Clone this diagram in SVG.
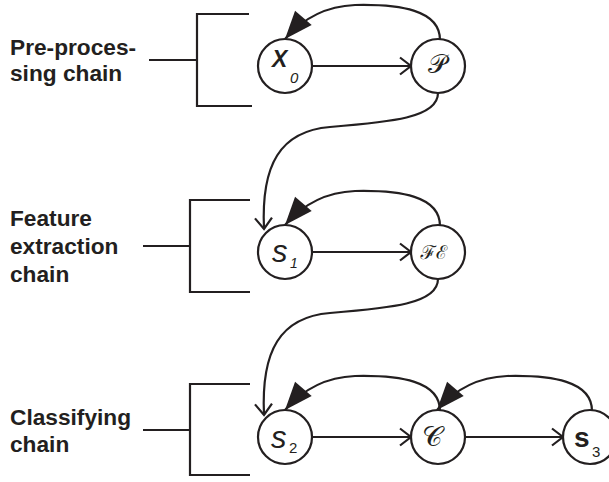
<svg xmlns="http://www.w3.org/2000/svg" width="609" height="482" viewBox="0 0 609 482">
<style>
.lbl{font-family:"Liberation Sans",Arial,sans-serif;font-weight:bold;font-size:22.7px;fill:#231f20}
.br{fill:none;stroke:#231f20;stroke-width:2.2}
.nd{fill:#fff;stroke:#231f20;stroke-width:2.2}
.e{fill:none;stroke:#231f20;stroke-width:2.2}
.ea{marker-end:url(#open)}
.fb{marker-end:url(#tri)}
.v{font-family:"Liberation Sans",Arial,sans-serif;fill:#231f20}
.m{font-family:"DejaVu Serif","Noto Sans","DejaVu Sans",serif;fill:#231f20;text-anchor:middle}
</style>
<defs>
<marker id="open" markerUnits="userSpaceOnUse" viewBox="0 0 14 20" refX="12" refY="10" markerWidth="14" markerHeight="20" orient="auto" overflow="visible">
<path d="M1,1.5 L12,10 L1,18.5" fill="none" stroke="#231f20" stroke-width="2.2"/>
</marker>
<marker id="tri" markerUnits="userSpaceOnUse" viewBox="0 0 28 22" refX="28" refY="11" markerWidth="28" markerHeight="22" orient="auto" overflow="visible">
<path d="M0,0 L28,11 L0,22 z" fill="#231f20"/>
</marker>
</defs>

<g id="label-preprocessing">
<text class="lbl" x="10" y="55">Pre-proces-</text>
<text class="lbl" x="10" y="81">sing chain</text>
<path class="br" d="M149,60 H197 M249,14 H197 V106 H252"/>
</g>
<g id="label-feature">
<text class="lbl" x="10" y="226">Feature</text>
<text class="lbl" x="10" y="254">extraction</text>
<text class="lbl" x="10" y="282">chain</text>
<path class="br" d="M143,246 H190 M250,200 H190 V292 H250"/>
</g>
<g id="label-classifying">
<text class="lbl" x="10" y="425">Classifying</text>
<text class="lbl" x="10" y="452">chain</text>
<path class="br" d="M143,430 H190 M250,384 H190 V475 H250"/>
</g>

<g id="connectors">
<path class="e ea" d="M312,66 H411"/>
<path class="e ea" d="M312,252 H411"/>
<path class="e ea" d="M312,437 H411"/>
<path class="e ea" d="M465,437 H563"/>
<path class="e fb" d="M440,40 C440,10 400,4 355,5 C330,6 305,16 285,39"/>
<path class="e fb" d="M440,226 C440,196 400,190 355,191 C330,192 305,202 285,225"/>
<path class="e fb" d="M440,411 C440,381 400,375 355,376 C330,377 305,387 285,410"/>
<path class="e fb" d="M592,411 C592,381 552,375 507,376 C482,377 457,387 437,410"/>
<path class="e ea" d="M438,93 C438,118 390,122 330,127 C280,131 261,165 264,229"/>
<path class="e ea" d="M438,279 C438,304 390,308 330,313 C280,317 261,351 264,415"/>
</g>

<g id="node-x0">
<circle class="nd" cx="285" cy="66" r="27"/>
<text class="v" x="272" y="67" font-size="23" font-weight="bold" font-style="italic">X</text>
<text class="v" x="290" y="83" font-size="15" font-style="italic">0</text>
</g>
<g id="node-p">
<circle class="nd" cx="438" cy="66" r="27"/>
<text class="m" x="437" y="73" font-size="26">𝒫</text>
</g>
<g id="node-s1">
<circle class="nd" cx="285" cy="252" r="27"/>
<text class="v" x="272" y="262" font-size="31" font-style="italic">s</text>
<text class="v" x="290" y="268" font-size="14" font-style="italic">1</text>
</g>
<g id="node-fe">
<circle class="nd" cx="438" cy="252" r="27"/>
<text class="m" x="434" y="259" font-size="19">ℱℰ</text>
</g>
<g id="node-s2">
<circle class="nd" cx="285" cy="437" r="27"/>
<text class="v" x="271" y="448" font-size="31" font-style="italic">s</text>
<text class="v" x="289" y="453" font-size="15">2</text>
</g>
<g id="node-c">
<circle class="nd" cx="438" cy="437" r="27"/>
<text class="m" x="432" y="446" font-size="28">𝒞</text>
</g>
<g id="node-s3">
<circle class="nd" cx="590" cy="437" r="27"/>
<text class="v" x="574" y="447" font-size="28" font-weight="bold">s</text>
<text class="v" x="592" y="457" font-size="15">3</text>
</g>
</svg>
